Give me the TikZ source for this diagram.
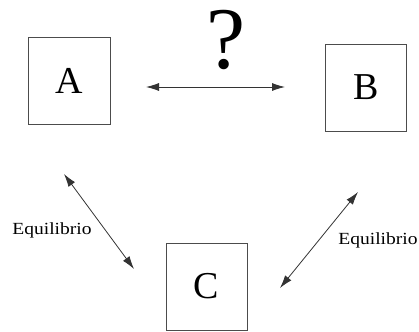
\documentclass[tikz,border=0pt]{standalone}
\usepackage{fontspec}
\setmainfont{Liberation Serif}
\usetikzlibrary{arrows.meta}
\begin{document}
\begin{tikzpicture}[x=1pt,y=-1pt,
  box/.style={draw=black!70,line width=0.9pt,inner sep=0pt,font=\fontsize{38}{40}\selectfont},
  conn/.style={draw=black!80,line width=0.8pt,{Latex[length=13pt,width=8pt]}-{Latex[length=13pt,width=8pt]}},
  lbl/.style={font=\fontsize{17}{19}\selectfont,inner sep=0pt}]
\useasboundingbox (0,0) rectangle (419,331);
\node[box,minimum width=82pt,minimum height=87pt] (A) at (69,81) {A};
\node[box,minimum width=81pt,minimum height=87pt] (B) at (366,87.5) {B};
\node[box,minimum width=81pt,minimum height=87pt] (C) at (206.5,286.5) {C};
\coordinate (ab1) at (146,87);
\coordinate (ab2) at (285,87);
\coordinate (ac1) at (64,174);
\coordinate (ac2) at (134,269);
\coordinate (bc1) at (358,192);
\coordinate (bc2) at (280,288);
\draw[conn] (ab1) -- (ab2);
\draw[conn] (ac1) -- (ac2);
\draw[conn] (bc1) -- (bc2);
\node[font=\fontsize{88}{90}\selectfont,inner sep=0pt] (q) at (226,40) {?};
\node[lbl,xscale=1.15] (l1) at (52,230) {Equilibrio};
\node[lbl,xscale=1.15] (l2) at (378,240) {Equilibrio};
\end{tikzpicture}
\end{document}
